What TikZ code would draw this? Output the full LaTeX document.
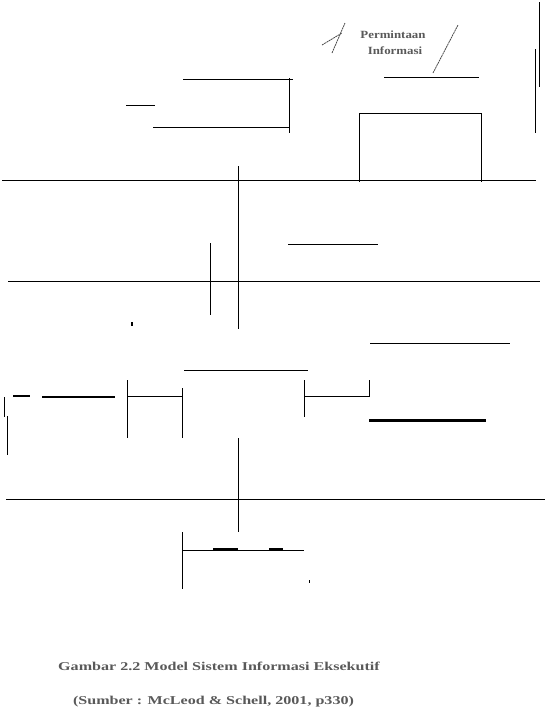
\documentclass[tikz,border=0pt]{standalone}
\usepackage{fontspec}
\setmainfont{Liberation Serif}
\tikzset{
  ln/.style={line width=1pt, black},
  lnthick/.style={line width=2pt, black},
  lnheavy/.style={line width=3pt, black},
  diag/.style={line width=0.8pt, black!70, dash pattern=on 2pt off 0.6pt},
  lbl/.style={font=\fontsize{11}{12}\selectfont\bfseries, text=black!65, inner sep=0pt},
  captext/.style={font=\fontsize{12}{14}\selectfont\bfseries, text=black!65, inner sep=0pt}
}
\newcommand{\widetext}[2]{\scalebox{#1}[1]{#2}}
\begin{document}
\begin{tikzpicture}[x=1pt,y=-1pt]
\useasboundingbox (0,0) rectangle (545,716);
% top label and strokes
\node[lbl] (perm) at (393,35) {\widetext{1.17}{Permintaan}};
\node[lbl] (info) at (395,51) {\widetext{1.17}{Informasi}};
\draw[diag] (332,53) -- (345,23);
\draw[diag] (322,45) -- (342,33);
\draw[diag] (433,73) -- (458,25);
\draw[ln] (384,77) -- (479,77);
% right verticals
\draw[ln] (539,2) -- (539,87);
\draw[ln] (535,49) -- (535,133);
% upper left group
\draw[ln] (183,79) -- (293,79);
\draw[ln] (289,78) -- (289,133);
\draw[ln] (126,105) -- (155,105);
\draw[ln] (153,127) -- (289,127);
% rectangle
\draw[ln] (359,182) -- (359,113) -- (481,113) -- (481,182);
% first long horizontal
\draw[ln] (2,180) -- (536,180);
\draw[ln] (238,166) -- (238,329);
\draw[ln] (288,244) -- (378,244);
\draw[ln] (210,243) -- (210,315);
\draw[ln] (8,281) -- (540,281);
\draw[line width=1.5pt] (132,322) -- (132,326);
% middle row
\draw[ln] (370,343) -- (510,343);
\draw[ln] (184,370) -- (308,370);
\draw[ln] (127,380) -- (127,438);
\draw[ln] (127,396) -- (182,396);
\draw[ln] (182,388) -- (182,438);
\draw[ln] (304,380) -- (304,417);
\draw[ln] (304,396) -- (369,396);
\draw[ln] (369,380) -- (369,397);
\draw[lnheavy] (369,420) -- (486,420);
\draw[lnthick] (13,396) -- (30,396);
\draw[lnthick] (42,396.5) -- (115,396.5);
\draw[ln] (4.3,397) -- (4.3,417);
\draw[ln] (7.3,416) -- (7.3,455);
% lower part
\draw[ln] (238,438) -- (238,532);
\draw[ln] (6,499) -- (545,499);
\draw[ln] (182,532) -- (182,589);
\draw[ln] (182,550) -- (304,550);
\draw[lnthick] (213,549.2) -- (238,549.2);
\draw[lnthick] (269,549.2) -- (283,549.2);
\draw[ln] (309,580) -- (309,583);
% caption
\node[captext] (cap1) at (219,666) {\widetext{1.34}{Gambar 2.2 Model Sistem Informasi Eksekutif}};
\node[captext] (cap2) at (213.5,702) {\widetext{1.34}{(Sumber : McLeod \& Schell, 2001, p330)}};
\end{tikzpicture}
\end{document}
